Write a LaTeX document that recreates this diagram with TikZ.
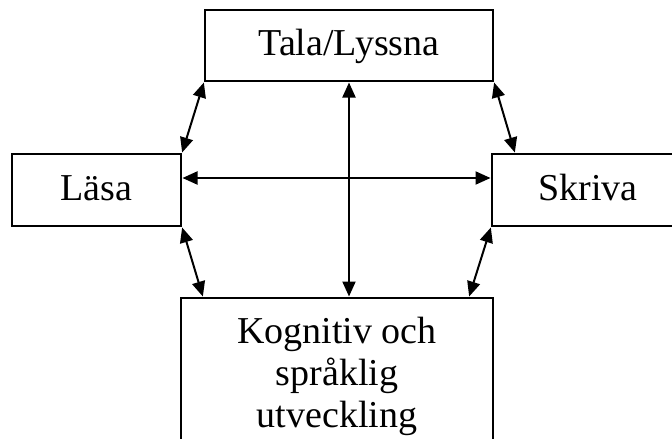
\documentclass[tikz,border=0pt]{standalone}
\usepackage{fontspec}
\setmainfont{Liberation Serif}
\usetikzlibrary{arrows.meta}
\begin{document}
\begin{tikzpicture}[x=1pt,y=-1pt,
  box/.style={draw=black,line width=2pt,rectangle,inner sep=0pt},
  txt/.style={inner sep=0pt,anchor=base,font=\fontsize{38}{42}\selectfont},
  link/.style={line width=2pt,{Triangle[length=15pt,width=13pt]}-{Triangle[length=15pt,width=13pt]},shorten <=0.5pt,shorten >=0.5pt}]
\useasboundingbox (0,0) rectangle (672,439);
\clip (0,0) rectangle (672,439);
\node[box,minimum width=288pt,minimum height=71pt] (tala) at (349,45.5) {};
\node[box,minimum width=169pt,minimum height=72pt] (lasa) at (96.5,190) {};
\node[box,minimum width=200pt,minimum height=72pt] (skriva) at (592,190) {};
\node[box,minimum width=312pt,minimum height=170pt] (kog) at (337,383) {};
\node[txt] (talat) at (349,55) {Tala/Lyssna};
\node[txt] (lasat) at (96.5,200) {Läsa};
\node[txt] (skrivat) at (588,200) {Skriva};
\node[txt] (kogt) at (337,343) {\vtop{\halign{\hfil#\hfil\cr Kognitiv och\cr språklig\cr utveckling\cr}}};
\draw[link] (tala.south west) -- (lasa.north east);
\draw[link] (tala.south east) -- ([xshift=24pt]skriva.north west);
\draw[link] (lasa.south east) -- ([xshift=23pt]kog.north west);
\draw[link] (skriva.south west) -- ([xshift=-25pt]kog.north east);
\draw[link] ([yshift=12pt]lasa.east) -- ([yshift=12pt]skriva.west);
\draw[link] (tala.south) -- (tala.south |- kog.north);
\end{tikzpicture}
\end{document}
